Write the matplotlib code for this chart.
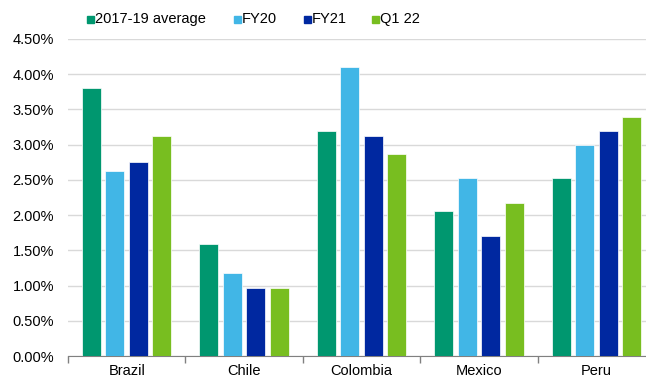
import numpy as np
import matplotlib.pyplot as plt
from matplotlib.patches import Rectangle
from matplotlib.ticker import FuncFormatter

plt.rcParams['font.family'] = ['Liberation Sans', 'DejaVu Sans']

countries = ["Brazil", "Chile", "Colombia", "Mexico", "Peru"]
series = ["2017-19 average", "FY20", "FY21", "Q1 22"]
avg_17_19 = [3.80, 1.59, 3.19, 2.06, 2.53]
fy20 = [2.62, 1.18, 4.10, 2.52, 3.00]
fy21 = [2.76, 0.97, 3.13, 1.71, 3.19]
q1_22 = [3.12, 0.97, 2.87, 2.17, 3.39]
colors = ["#00976F", "#41B6E6", "#0028A0", "#78BE20"]

W, H = 646, 379
fig = plt.figure(figsize=(W/100, H/100), dpi=100)
ax = fig.add_axes([68/W, 1-356/H, 587/W, (356-39)/H])

x = np.arange(len(countries))
pitch = 0.2
width = 0.162
for i, vals in enumerate([avg_17_19, fy20, fy21, q1_22]):
    ax.bar(x + (i - 1.5)*pitch, vals, width, color=colors[i],
           edgecolor='white', linewidth=0.5, zorder=3)

ax.set_xlim(-0.5, len(countries) - 0.5)
ax.set_ylim(0, 4.5)
ax.set_yticks(np.arange(0, 4.51, 0.5))
ax.yaxis.set_major_formatter(FuncFormatter(lambda v, p: f"{v:.2f}%"))
ax.yaxis.grid(True, color='#D9D9D9', linewidth=1, zorder=0)
ax.tick_params(axis='y', length=0, labelsize=10.5, pad=10)

ax.set_xticks(x)
ax.set_xticklabels(countries)
ax.set_xticks(np.arange(-0.5, len(countries)), minor=True)
ax.tick_params(axis='x', which='major', length=0, labelsize=10.5, pad=6)
ax.tick_params(axis='x', which='minor', length=5, color='#808080', width=1)

for s in ['top', 'right', 'left']:
    ax.spines[s].set_visible(False)
ax.spines['bottom'].set_color('#808080')

# legend drawn by hand, Excel-style spacing
leg_x = [87, 234, 304, 372]
for lx, lab, c in zip(leg_x, series, colors):
    fig.patches.append(Rectangle((lx/W, 1-22.5/H), 6.5/W, 6.5/H, color=c,
                                 transform=fig.transFigure))
    fig.text((lx+8)/W, 1-19/H, lab, fontsize=10.5, va='center', ha='left')

fig.savefig("out.png", dpi=100)
